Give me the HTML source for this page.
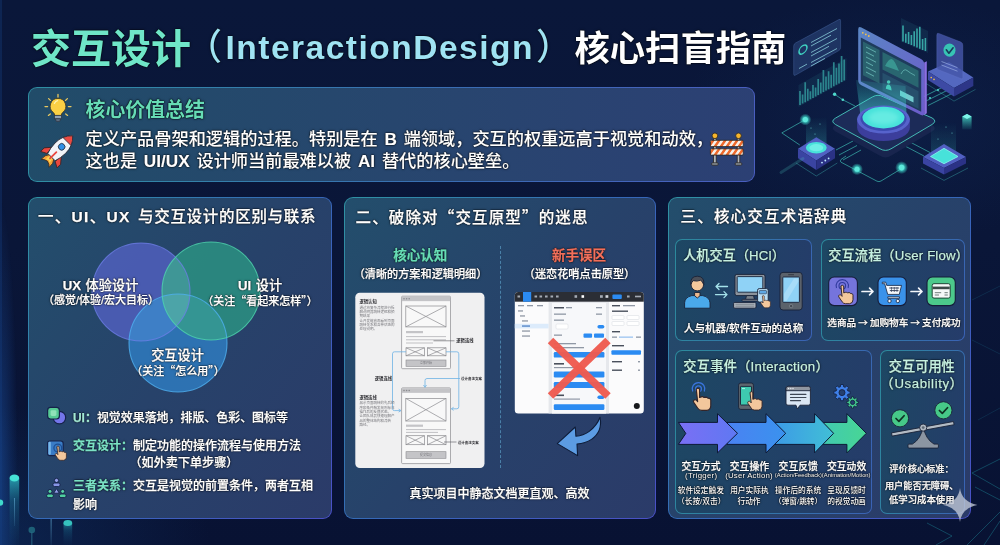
<!DOCTYPE html>
<html lang="zh-CN">
<head>
<meta charset="utf-8">
<title>交互设计（InteractionDesign）核心扫盲指南</title>
<style>
*{margin:0;padding:0;box-sizing:border-box}
html,body{width:1000px;height:545px;overflow:hidden;background:#091538}
body{position:relative;font-family:"Liberation Sans","Noto Sans CJK SC",sans-serif;color:#fff;
  background:
    radial-gradient(ellipse 300px 180px at 89% 22%, rgba(20,50,104,.28), rgba(10,24,60,0) 70%),
    radial-gradient(ellipse 300px 200px at 0% 100%, rgba(16,50,100,.55), rgba(10,24,60,0) 70%),
    linear-gradient(180deg,#0a173a 0%,#0a1638 45%,#081233 100%);}
#stage{position:absolute;left:0;top:0;width:1000px;height:545px;will-change:transform}
.abs{position:absolute}
.t{position:absolute;white-space:nowrap;line-height:1;text-shadow:0 0 1px rgba(0,0,0,.95),0 0 1.5px rgba(0,0,0,.85),0 0 2.5px rgba(0,0,0,.55);-webkit-text-stroke:.25px}
.c{transform:translateX(-50%);text-align:center}
.mint{color:#66dcb6}
.pm{color:#c6f1e2}
.q{font-family:"Noto Sans CJK SC",sans-serif}
.panel{position:absolute;border-radius:9px;border:1px solid transparent;
  background:
   linear-gradient(128deg,#234e6c 0%,#27426a 50%,#2b3b69 100%) padding-box,
   linear-gradient(128deg,#2f93a3 0%,#3568b8 50%,#4a50c6 100%) border-box;}
.sub{position:absolute;border-radius:7px;border:1px solid transparent;
  background:
   linear-gradient(100deg,#1d4763 0%,#253c6a 100%) padding-box,
   linear-gradient(100deg,#2c8b9c 0%,#3a62b4 100%) border-box;}
</style>
</head>
<body>
<div id="stage">

<!-- ============ BACKGROUND DECOR ============ -->
<svg class="abs" style="left:0;top:0" width="1000" height="545" viewBox="0 0 1000 545">
  <defs>
    <linearGradient id="dBar" x1="0" y1="0" x2="0" y2="1"><stop offset="0" stop-color="#2aa6b4" stop-opacity=".9"/><stop offset=".35" stop-color="#1a6a8a" stop-opacity=".5"/><stop offset="1" stop-color="#123e6a" stop-opacity=".1"/></linearGradient>
    <linearGradient id="dLine" x1="0" y1="0" x2="0" y2="1"><stop offset="0" stop-color="#5aa0c8" stop-opacity=".8"/><stop offset="1" stop-color="#5aa0c8" stop-opacity=".15"/></linearGradient>
    <radialGradient id="dEdge" cx="0" cy=".5" r=".5" gradientTransform="translate(0 0) scale(2 1)"><stop offset="0" stop-color="#163f82" stop-opacity=".8"/><stop offset="1" stop-color="#163f82" stop-opacity="0"/></radialGradient>
  </defs>
  <rect x="0" y="200" width="18" height="560" fill="url(#dEdge)"/>
  <rect x="0" y="0" width="2" height="545" fill="#163f82" fill-opacity=".35"/>
  <rect x="9.600" y="478" width="9.600" height="67" fill="url(#dBar)"/>
  <ellipse cx="14.400" cy="478" rx="4.800" ry="3.400" fill="#46e2d6"/>
  <rect x="14" y="498" width=".9" height="28" fill="url(#dLine)"/>
  <circle cx="0" cy="502.600" r="3.200" fill="#3fd8cc"/>
  <rect x="63.500" y="523" width="8.700" height="22" fill="url(#dBar)" opacity=".7"/>
  <ellipse cx="67.800" cy="523" rx="4.400" ry="3" fill="#36c2be"/>
  <circle cx="31.800" cy="530" r="3.300" fill="#1d6078"/>
  <rect x="31.400" y="532" width=".9" height="13" fill="#2a6a86"/>
  <rect x="50.600" y="519" width="1" height="26" fill="url(#dLine)"/>
  <!-- bottom-right geometric lines -->
  <g fill="none" stroke="#1f93a0" stroke-opacity=".45" stroke-width=".9">
    <path d="M972 473L1000 459M972 473L1000 489M984 545L1000 521M967 545L1000 512"/>
    <path d="M927 523L952 536L936 545M975 487L1000 500"/>
  </g>
  <g fill="none" stroke="#1f6f90" stroke-opacity=".3" stroke-width=".8">
    <path d="M972 300L1000 286M972 340L1000 354M978 420L1000 408"/>
  </g>
</svg>

<!-- ============ HERO ILLUSTRATION ============ -->
<svg class="abs" style="left:770px;top:0" width="230" height="195" viewBox="770 0 230 195">
  <defs>
    <linearGradient id="hBeam" x1="0" y1="0" x2="0" y2="1"><stop offset="0" stop-color="#3fd8d0" stop-opacity=".12"/><stop offset="1" stop-color="#46e4dc" stop-opacity=".6"/></linearGradient>
    <linearGradient id="hBeam2" x1="0" y1="0" x2="0" y2="1"><stop offset="0" stop-color="#3fd8d0" stop-opacity="0"/><stop offset="1" stop-color="#46e4dc" stop-opacity=".45"/></linearGradient>
    <linearGradient id="hMon" x1="0" y1="0" x2="1" y2="1"><stop offset="0" stop-color="#5a86c4"/><stop offset="1" stop-color="#6c5ccc"/></linearGradient>
    <linearGradient id="hCube" x1="0" y1="0" x2="0" y2="1"><stop offset="0" stop-color="#52e6d2"/><stop offset="1" stop-color="#2aa6a0" stop-opacity=".1"/></linearGradient>
    <radialGradient id="hGlow"><stop offset="0" stop-color="#7ff5ea"/><stop offset=".45" stop-color="#3fd8cc" stop-opacity=".8"/><stop offset="1" stop-color="#3fd8cc" stop-opacity="0"/></radialGradient>
    <filter id="hBlur" x="-30%" y="-30%" width="160%" height="160%"><feGaussianBlur stdDeviation="2.200"/></filter>
  </defs>
  <!-- circuit lines -->
  <g fill="none" stroke="#3fbdb4" stroke-opacity=".75" stroke-width=".9" stroke-linejoin="round">
    <path d="M805.300 119.600L781.800 132.900L799.800 145"/>
    <path d="M834.600 94.300L842.800 99.800L855 106"/>
    <path d="M836 150L853 141M839 155L857 145.500M843 160L861 150"/>
    <path d="M846 156l-5 3.500q-1.500 1.500 0 2.700l36 19q2 1 4-.2l20.600-12.400"/>
    <path d="M924 96.500L947 85M926 101L950 89M928 105.500L953 93"/>
    <path d="M905 146L924 156M910 142L930 152.500"/>
  </g>
  <!-- platform -->
  <path d="M835.500 124.500q-5.500-3.200 0-6.400l37-21.200q5.500-3.200 11 0l48.500 21q5.600 3.200 0 6.600l-41 24.300q-5.500 3.200-11 0z" fill="#18254e" stroke="none" transform="translate(0 7)"/>
  <path d="M835.500 124.500q-5.500-3.200 0-6.400l37-21.200q5.500-3.200 11 0l48.500 21q5.600 3.200 0 6.600l-41 24.300q-5.500 3.200-11 0z" fill="#1c2b58" stroke="#4bd2c4" stroke-opacity=".85" stroke-width="1"/>
  <!-- left translucent panel -->
  <path d="M793.700 46q0-2 1.800-3l43.300-23.400q1.800-1 1.800 1v27q0 2-1.800 3l-43.300 24.500q-1.800 1-1.800-1z" fill="#35528c" fill-opacity=".48" stroke="#5b83c4" stroke-opacity=".45" stroke-width=".7"/>
  <circle cx="803" cy="49.500" r="4" fill="none" stroke="#3fd0c0" stroke-width="1.500" transform="skewY(-28) translate(0 427)"/>
  <g stroke="#8fd6e0" stroke-opacity=".75" stroke-width="1"><path d="M811 42.500l26-14M811 46l20-10.800M811 52.500l26-14M811 56l18-9.700M811 62.500l26-14M811 66l14-7.600M799 68.500l8-4.400"/></g>
  <!-- left bar chart -->
  <g stroke="#43c9c0" stroke-opacity=".6" stroke-width="1.700">
    <path d="M800 105v-14M802.600 103.600v-9M805.200 102.200v-20M807.800 100.800v-12M810.400 99.300v-8M813 97.900v-13M815.600 96.400v-9M818.200 95v-16M820.800 93.500v-11M823.400 92.100v-22M826 90.600v-14M828.600 89.200v-18M831.200 87.700v-13M833.800 86.300v-24M836.400 84.800v-17M839 83.400v-20M841.600 81.900v-26M844.200 80.500v-21"/>
  </g>
  <path d="M798.500 107l48-27v-22l-48 27z" fill="#2f8f9a" fill-opacity=".13"/>
  <!-- top small bar chart -->
  <path d="M901 41.500l27 11.500v-22l-27-13z" fill="#2f8f9a" fill-opacity=".14"/>
  <g stroke="#46cfc4" stroke-opacity=".75" stroke-width="1.600">
    <path d="M903 41.500v-16M905.800 42.700v-9M908.600 43.900v-12M911.400 45.100v-10M914.200 46.300v-15M917 47.500v-19M919.800 48.700v-22M922.600 49.900v-11M925.400 51.100v-13"/>
  </g>
  <!-- monitor -->
  <path d="M858.200 29.400q0-3.600 3.200-2l59.600 31.600q3.200 1.700 3.200 5.300v48.600q0 3.600-3.200 2l-59.600-29.700q-3.200-1.700-3.200-5.300z" fill="url(#hMon)"/>
  <path d="M924.200 62.500l2.600-1.300v52l-2.600 1.800z" fill="#8a6fe0"/>
  <path d="M860.800 37.500l60.400 31.700v42.500l-60.400-30.200z" fill="#1e3b5c"/>
  <g fill="#f2c24a"><circle cx="862.800" cy="32.800" r=".9"/><circle cx="865.800" cy="34.400" r=".9"/><circle cx="868.800" cy="36" r=".9"/></g>
  <path d="M863 41.500l16.500 8.600v33.400l-16.500-8.200z" fill="#2b6670" fill-opacity=".9"/>
  <path d="M882.500 52l36 18.800v17l-36-18.400z" fill="#2a6c72" fill-opacity=".9"/>
  <path d="M882.500 72.800l36 18.400v17.500l-36-18z" fill="#27526e" fill-opacity=".9"/>
  <g stroke="#7fd8d0" stroke-opacity=".7" stroke-width=".9"><path d="M866 47l10 5.200M866 52l8 4.200M866 57l10 5.200M866 62l7 3.700M866 67l10 5.200M866 72l8 4.200"/></g>
  <path d="M885 66q6-12 10-3.500q2.500 5 4 8.600" fill="#3fa79c" fill-opacity=".75"/>
  <path d="M901 74q3-6 6-3.500t8 5" fill="none" stroke="#7fd8d0" stroke-opacity=".7" stroke-width=".8"/>
  <circle cx="888.600" cy="82" r="1.800" fill="#49c8b8"/><path d="M885.800 88.800q.4-4.400 2.800-4.200q2.600.4 3 5.800z" fill="#49c8b8"/>
  <path d="M900 90.200l13.500 6.800v5.500l-13.500-6.800z" fill="#7fe0e0" fill-opacity=".85"/>
  <!-- right card + server -->
  <path d="M928 71.600l21-9.500l24.300 15.400l-19.300 10.500z" fill="#5468c0"/>
  <path d="M928 71.600l26 16.400v8.500l-26-16.400z" fill="#3d4aa4"/>
  <path d="M954 88l19.300-10.500v8.500l-19.300 10.500z" fill="#2d3688"/>
  <path d="M926 80.500l28 17.600l21.500-11.700" fill="none" stroke="#45c8c0" stroke-opacity=".4" stroke-width=".8" transform="translate(0 3)"/>
  <g fill="#f2c24a"><circle cx="931.200" cy="77.600" r=".8"/><circle cx="934" cy="79.400" r=".8"/></g>
  <path d="M936.800 35q0-2.400 2-1.600l22 8.600q2 .8 2 3.200v32.500q0 1.600-1.600 1l-22.800-9q-1.600-.7-1.600-2.400z" fill="#4456a8" fill-opacity=".82" stroke="#6a7cd0" stroke-opacity=".5" stroke-width=".6"/>
  <ellipse cx="949.500" cy="50.200" rx="6" ry="6.600" fill="#37c4b4"/>
  <path d="M946.300 49.800l2.600 3.400l4.200-5.400" fill="none" stroke="#173a5a" stroke-width="1.600" stroke-linecap="round" stroke-linejoin="round"/>
  <g stroke="#9fb4e8" stroke-opacity=".7" stroke-width=".9"><path d="M941.500 61.500l16 6.200M941.500 65l16 6.200"/></g>
  <!-- beam + disc -->
  <path d="M856 80l4.500 36q1 7 23 8q22-1 23-8l-1-30z" fill="url(#hBeam)"/>
  <path d="M857.100 118v9.500a26.400 13.500 0 0 0 52.800 0v-9.500z" fill="#3c3e9c"/>
  <ellipse cx="883.500" cy="119.500" rx="26.400" ry="14" fill="#5763cc"/>
  <ellipse cx="883.500" cy="119" rx="23" ry="12" fill="#3b4bb0"/>
  <ellipse cx="883.500" cy="117.600" rx="21" ry="10.800" fill="#47e2da"/>
  <ellipse cx="883.500" cy="117.600" rx="15" ry="7" fill="#7df3ea" fill-opacity=".55" filter="url(#hBlur)"/>
  <!-- left box -->
  <path d="M806 148V119l20.500 -2.500V148z" fill="url(#hBeam2)" opacity=".55"/>
  <path d="M798 148.700l18.300-11.400l18.700 11.400l-18.700 11.700z" fill="#5160c2"/>
  <path d="M798 148.700l18.300 11.700v9.600l-18.300-11.700z" fill="#3a44a2"/>
  <path d="M816.300 160.400l18.700-11.700v9.600l-18.700 11.700z" fill="#2b3286"/>
  <path d="M796 160.500l20.300 13l21-13" fill="none" stroke="#45c8c0" stroke-opacity=".45" stroke-width=".8" transform="translate(0 2.500)"/>
  <ellipse cx="816.300" cy="147.700" rx="10.400" ry="5.800" fill="#47e2da"/>
  <ellipse cx="816.300" cy="147.700" rx="7" ry="3.600" fill="#8af6ee" fill-opacity=".6"/>
  <g fill="#bfe9ff"><circle cx="822" cy="162.600" r=".9"/><circle cx="825.300" cy="160.500" r=".9"/><circle cx="828.600" cy="158.400" r=".9"/></g>
  <path d="M803 158.500l-22 14" stroke="#4fd8cc" stroke-opacity=".2" stroke-width="3" stroke-linecap="round"/>
  <!-- right box -->
  <path d="M931 156V124l25-2V156z" fill="url(#hBeam2)" opacity=".4"/>
  <path d="M923 157l21-13.100l22 13.100l-22 11z" fill="#5160c2"/>
  <path d="M923 157l21 11v6.500l-21-11z" fill="#3a44a2"/>
  <path d="M944 168l22-11v6.500l-22 11z" fill="#2b3286"/>
  <path d="M921 166l23 12.400l24-12.400" fill="none" stroke="#45c8c0" stroke-opacity=".45" stroke-width=".8" transform="translate(0 2)"/>
  <path d="M930.500 156.500l13.500-8.200l14 8.200l-14 7.200z" fill="#47e2da" stroke="#8af6ee" stroke-width=".8" stroke-linejoin="round"/>
  <!-- small cube -->
  <path d="M962.300 116.500l4.700-2.500l4.600 2.500v13h-9.300z" fill="url(#hCube)"/>
  <path d="M962.300 116.500l4.700-2.500l4.600 2.500l-4.600 2.500z" fill="#7ff5ea"/>
  <!-- glow dots -->
  <circle cx="805.300" cy="119.600" r="6" fill="url(#hGlow)"/><circle cx="805.300" cy="119.600" r="2.600" fill="#5fe8dc"/>
  <circle cx="857" cy="169.200" r="6" fill="url(#hGlow)"/><circle cx="857" cy="169.200" r="2.500" fill="#5fe8dc"/>
  <circle cx="901.600" cy="167.600" r="6.500" fill="url(#hGlow)"/><circle cx="901.600" cy="167.600" r="2.800" fill="#5fe8dc"/>
  <circle cx="834.600" cy="94.300" r="1.700" fill="#4fd8cc"/><circle cx="842.800" cy="99.800" r="1.300" fill="#4fd8cc"/>
  <circle cx="938" cy="90" r="1" fill="#4fd8cc"/><circle cx="930" cy="98" r="1" fill="#4fd8cc"/>
  <g fill="#7ff5ea" fill-opacity=".7"><circle cx="811" cy="128" r=".6"/><circle cx="820" cy="124" r=".6"/><circle cx="815" cy="134" r=".6"/><circle cx="946" cy="127" r=".6"/><circle cx="938" cy="139" r=".6"/><circle cx="952" cy="133" r=".6"/></g>
</svg>

<!-- ============ TITLE ============ -->
<div class="t" id="t1" style="-webkit-text-stroke:0;left:31px;top:29px;font-size:40px;font-weight:700;color:#6fe6c8">交互设计</div>
<div class="t" id="t2a" style="-webkit-text-stroke:0;left:186px;top:30px;font-size:36px;font-weight:500;color:#9fe3f3">（</div>
<div class="t" id="t2" style="-webkit-text-stroke:0;left:225.5px;top:31px;font-size:33.5px;font-weight:700;letter-spacing:1.5px;color:#9fe3f3">InteractionDesign</div>
<div class="t" id="t2b" style="-webkit-text-stroke:0;left:536px;top:30px;font-size:36px;font-weight:500;color:#9fe3f3">）</div>
<div class="t" id="t3" style="-webkit-text-stroke:0;left:574.5px;top:31px;font-size:35.3px;font-weight:700;color:#fff">核心扫盲指南</div>

<!-- ============ SUMMARY BOX ============ -->
<div class="panel" id="sum" style="left:28px;top:87px;width:727px;height:95px;
  background:linear-gradient(95deg,#214c69 0%,#27466e 50%,#2c4074 100%) padding-box,linear-gradient(95deg,#2f8fa3 0%,#3a6cb4 60%,#4a5ec0 100%) border-box;"></div>
<div class="t mint" style="-webkit-text-stroke:0;left:85.5px;top:101px;font-size:19.9px;font-weight:700">核心价值总结</div>
<div class="t" style="left:85.5px;top:131px;-webkit-text-stroke:.1px;font-size:17.2px;font-weight:500;word-spacing:2px">定义产品骨架和逻辑的过程。特别是在 <b>B</b> 端领域，交互的权重远高于视觉和动效，</div>
<div class="t" style="left:85.5px;top:153px;-webkit-text-stroke:.1px;font-size:17.2px;font-weight:500;word-spacing:2px">这也是 <b>UI/UX</b> 设计师当前最难以被 <b>AI</b> 替代的核心壁垒。</div>

<!-- summary icons -->
<svg class="abs" style="left:36px;top:92px" width="44" height="84" viewBox="36 92 44 84">
  <!-- bulb -->
  <g stroke="#e8c860" stroke-width="1.3" stroke-linecap="round">
    <path d="M58 94.5v2.6M48.6 98.6l1.8 1.8M67.4 98.6l-1.8 1.8M45 106.6h2.6M68.4 106.6h2.6M48.4 115.4l1.9-1.5M67.6 115.4l-1.9-1.5"/>
  </g>
  <path d="M58 98.4a7.8 7.8 0 0 1 4.6 14.1q-1.2 1.1-1.3 2.9h-6.6q-.1-1.8-1.3-2.9A7.8 7.8 0 0 1 58 98.4z" fill="#fbd045" stroke="#3a3320" stroke-width=".8"/>
  <path d="M54.4 103.4q1-2.4 3.2-2.8" fill="none" stroke="#fff3b0" stroke-width="1.2" stroke-linecap="round"/>
  <rect x="54.6" y="115.4" width="6.8" height="3.4" fill="#8fa2b4" stroke="#2e3440" stroke-width=".7"/>
  <path d="M55.4 118.8h5.2l-.9 2.6h-3.4z" fill="#5f7186" stroke="#2e3440" stroke-width=".7"/>
  <!-- rocket -->
  <g transform="translate(58.5 150) rotate(45)">
    <path d="M-3 9.5 q-3.4 3.4 -2.6 9.4 q2-2.4 5.6-3.2 q3.6.8 5.6 3.2 q.8-6-2.6-9.400z" fill="#f7a53a" stroke="#3a2a20" stroke-width=".8"/>
    <path d="M-1.500 10.500 q-1.500 2.400-.900 5.200 q1.200-1.400 2.400-1.700 q1.200.3 2.400 1.700 q.6-2.800-.9-5.200z" fill="#fbd652"/>
    <path d="M-6 2 l-5.600 6.600 v5 l5.800-3z M6 2 l5.600 6.600 v5 l-5.800-3z" fill="#e9473f" stroke="#3a2020" stroke-width=".8" stroke-linejoin="round"/>
    <path d="M0-20 q7.600 6.600 7.400 17.500 q-.2 7-2.200 12.500 h-10.400 q-2-5.500-2.200-12.500 q-.2-10.900 7.400-17.500z" fill="#f2f4f8" stroke="#2b2f3c" stroke-width=".9"/>
    <path d="M0-20 q3.800 3.200 5.700 8 h-11.400 q1.900-4.800 5.700-8z" fill="#ea4a42" stroke="#2b2f3c" stroke-width=".8"/>
    <circle cx="0" cy="-4.500" r="3.300" fill="#2f8fe6" stroke="#2b2f3c" stroke-width=".8"/>
    <path d="M0 3v9" stroke="#e9473f" stroke-width="1.800" stroke-linecap="round"/>
  </g>
</svg>
<svg class="abs" style="left:706px;top:128px" width="42" height="42" viewBox="706 128 42 42">
  <defs>
    <pattern id="stripe" width="6" height="8" patternUnits="userSpaceOnUse" patternTransform="skewX(-35)">
      <rect width="6" height="8" fill="#f6f1ea"/><rect width="3" height="8" fill="#ee6a2c"/>
    </pattern>
  </defs>
  <g stroke="#2a2622" stroke-width=".8">
    <rect x="713.600" y="138" width="2.600" height="25.500" fill="#aeb4ba"/>
    <rect x="737.200" y="138" width="2.600" height="25.500" fill="#aeb4ba"/>
    <rect x="711.600" y="162.800" width="6.600" height="2.400" rx="1" fill="#8d949b"/>
    <rect x="735.200" y="162.800" width="6.600" height="2.400" rx="1" fill="#8d949b"/>
    <circle cx="714.900" cy="135.800" r="2.800" fill="#f7b52c"/>
    <circle cx="738.500" cy="135.800" r="2.800" fill="#f7b52c"/>
    <rect x="710.400" y="140.300" width="32.800" height="6.300" rx="1" fill="url(#stripe)"/>
    <rect x="710.400" y="148.800" width="32.800" height="6.300" rx="1" fill="url(#stripe)"/>
  </g>
</svg>

<!-- ============ PANEL 1 ============ -->
<div class="panel" id="p1" style="left:28px;top:197px;width:304px;height:322px"></div>
<div class="t" style="left:38px;top:208.5px;font-size:15.5px;font-weight:500;letter-spacing:1.3px">一、<b>UI</b>、<b>UX</b></div>
<div class="t" style="left:138px;top:208.5px;font-size:15.5px;font-weight:500;letter-spacing:.7px">与交互设计的区别与联系</div>
<!-- venn -->
<svg class="abs" style="left:28px;top:197px" width="304" height="322" viewBox="28 197 304 322">
  <defs>
    <radialGradient id="gUX" cx="50%" cy="45%" r="60%"><stop offset="0" stop-color="#4a58c8"/><stop offset="1" stop-color="#4152c0"/></radialGradient>
    <radialGradient id="gUI" cx="50%" cy="45%" r="60%"><stop offset="0" stop-color="#2f9f8a"/><stop offset="1" stop-color="#2a9484"/></radialGradient>
    <radialGradient id="gIX" cx="50%" cy="45%" r="60%"><stop offset="0" stop-color="#2f86cf"/><stop offset="1" stop-color="#2a7cc6"/></radialGradient>
  </defs>
  <circle cx="141" cy="292" r="49" fill="#4f5fba" fill-opacity=".88"/>
  <circle cx="178" cy="343" r="49" fill="#2f7ec4" fill-opacity=".8"/>
  <circle cx="211" cy="291" r="49" fill="#2c9683" fill-opacity=".8"/>
  <clipPath id="cUX"><circle cx="141" cy="292" r="49"/></clipPath>
  <clipPath id="cIX"><circle cx="178" cy="343" r="49"/></clipPath>
  <circle cx="211" cy="291" r="49" fill="#9fe8e0" fill-opacity=".13" clip-path="url(#cUX)"/>
  <circle cx="211" cy="291" r="49" fill="#9fe8e0" fill-opacity=".08" clip-path="url(#cIX)"/>
  <circle cx="141" cy="292" r="49" fill="#9fd0ff" fill-opacity=".10" clip-path="url(#cIX)"/>
  <circle cx="141" cy="292" r="49" fill="none" stroke="#6f7fea" stroke-opacity=".75" stroke-width="1.100"/>
  <circle cx="178" cy="343" r="49" fill="none" stroke="#4fb0f0" stroke-opacity=".8" stroke-width="1.100"/>
  <circle cx="211" cy="291" r="49" fill="none" stroke="#4fd6ae" stroke-opacity=".8" stroke-width="1.100"/>
</svg>
<div class="t c" style="left:100.5px;top:278.5px;font-size:13.2px;font-weight:500;word-spacing:1px"><b>UX</b> 体验设计</div>
<div class="t c" style="left:101px;top:294.5px;font-size:11px;font-weight:500">（感觉/体验/宏大目标）</div>
<div class="t c" style="left:260px;top:278.5px;font-size:13.2px;font-weight:500;word-spacing:1px"><b>UI</b> 设计</div>
<div class="t c q" style="left:260px;top:294.5px;font-size:11px;font-weight:500">（关注“看起来怎样”）</div>
<div class="t c" style="left:177.5px;top:348.5px;font-size:13.2px;font-weight:500">交互设计</div>
<div class="t c q" style="left:178px;top:364.5px;font-size:11px;font-weight:500">（关注“怎么用”）</div>
<!-- panel1 icons -->
<svg class="abs" style="left:40px;top:400px" width="32" height="104" viewBox="40 400 32 104">
  <!-- UI icon -->
  <circle cx="59.4" cy="417.6" r="6.3" fill="#7476ea" stroke="#16224a" stroke-width="1.2"/>
  <rect x="47.6" y="407.4" width="11.8" height="11.6" rx="3" fill="#56c994" stroke="#16224a" stroke-width="1.2"/>
  <rect x="50.6" y="410.2" width="5.8" height="5.8" rx="1.4" fill="#8fe2b8"/>
  <!-- interaction icon -->
  <rect x="47.6" y="441" width="15.6" height="14.6" rx="2.4" fill="#3a7cc6" stroke="#16224a" stroke-width="1.2"/>
  <rect x="48.4" y="441.8" width="2.4" height="13" rx="1" fill="#79b8ea"/>
  <circle cx="57.8" cy="448" r="3.9" fill="none" stroke="#1d4f94" stroke-width="1.3"/>
  <circle cx="57.8" cy="448" r="1.7" fill="#2a64ad"/>
  <path d="M56.9 446.6 q1.1-1.2 2.2 0 v5.2 l1.6-.5 q.9-.2 1.2.5 l1.5-.2 q.9 0 1.1.8 l1.1.1 q.8.2.8 1.2 v3.6 q0 2.6-2.6 3 h-3.2 q-1.6 0-2.6-1.4 l-2.6-3.8 q-.6-1.1.4-1.6 q.9-.3 1.6.5 l.5.6 z" fill="#f3c79c" stroke="#3a2a2a" stroke-width=".8" stroke-linejoin="round"/>
  <!-- relation icon -->
  <g stroke="#142048" stroke-width=".9">
    <circle cx="56.5" cy="480.4" r="2.1" fill="#93a0ea"/>
    <rect x="52.9" y="483" width="7.2" height="3.6" rx="1.7" fill="#8796e6"/>
    <path d="M56.5 488.6 l2.8 4.6 h-5.6z" fill="#93a0ea"/>
    <circle cx="50" cy="491.4" r="2" fill="#58d3a4"/>
    <rect x="46.6" y="494" width="6.8" height="3.6" rx="1.7" fill="#4fd0a0"/>
    <circle cx="62.7" cy="491.4" r="2" fill="#58d3a4"/>
    <rect x="59.3" y="494" width="6.8" height="3.6" rx="1.7" fill="#4fd0a0"/>
  </g>
</svg>
<!-- bullets -->
<div class="t" style="left:73px;top:413px;font-size:11.95px;font-weight:500"><span style="color:#a2e8d6;font-weight:700">UI：</span>视觉效果落地，排版、色彩、图标等</div>
<div class="t" style="left:73px;top:439.5px;font-size:12px;font-weight:500"><span style="font-weight:700;color:#7be2c6">交互设计：</span>制定功能的操作流程与使用方法</div>
<div class="t" style="left:129.5px;top:456.5px;font-size:12.1px;font-weight:500">（如外卖下单步骤）</div>
<div class="t" style="left:73px;top:480.3px;font-size:12px;font-weight:500"><span style="font-weight:700;color:#7be2c6">三者关系：</span>交互是视觉的前置条件，两者互相</div>
<div class="t" style="left:73px;top:499px;font-size:12px;font-weight:500">影响</div>

<!-- ============ PANEL 2 ============ -->
<div class="panel" id="p2" style="left:344px;top:197px;width:312px;height:322px"></div>
<div class="t q" style="left:355.5px;top:208.5px;font-size:15.5px;font-weight:500;letter-spacing:1.15px">二、破除对“交互原型”的迷思</div>
<div class="abs" style="left:499.5px;top:246px;width:0;height:222px;border-left:1px dashed rgba(86,150,190,.75)"></div>
<div class="t c mint" style="left:420.2px;top:248.5px;font-size:13.5px;font-weight:700">核心认知</div>
<div class="t c" style="left:420.5px;top:269px;font-size:11.15px;font-weight:500">（清晰的方案和逻辑明细）</div>
<div class="t c" style="left:579px;top:248.5px;font-size:13.5px;font-weight:700;color:#f2705c">新手误区</div>
<div class="t c" style="left:579.5px;top:269px;font-size:11.15px;font-weight:500">（迷恋花哨点击原型）</div>
<!-- wireframe doc -->
<svg class="abs" style="left:355px;top:292px" width="130" height="177" viewBox="355 292 130 177" font-family="'Liberation Sans','Noto Sans CJK SC',sans-serif">
  <rect x="355.3" y="292.700" width="129.200" height="175.300" rx="4.500" fill="#f0f0f1"/>
  <g fill="none" stroke="#8b8b8f" stroke-width=".7">
    <rect x="401.600" y="296.200" width="48.900" height="72.500" rx="1" fill="#f8f8f8"/>
    <rect x="405.800" y="306" width="40.200" height="20.900"/><path d="M405.800 306l40.200 20.900M446 306l-40.200 20.900"/>
    <rect x="406" y="347.800" width="18.500" height="8"/><path d="M406 347.800l18.500 8M424.500 347.800l-18.500 8"/>
    <rect x="427.500" y="347.800" width="18.500" height="8"/><path d="M427.500 347.800l18.500 8M446 347.800l-18.500 8"/>
    <rect x="401.600" y="387.900" width="48.900" height="75.700" rx="1" fill="#f8f8f8"/>
    <rect x="405.800" y="398.400" width="40.200" height="22.600"/><path d="M405.800 398.400l40.200 22.600M446 398.400l-40.200 22.600"/>
    <rect x="406" y="435.700" width="18.500" height="9"/><path d="M406 435.700l18.500 9M424.500 435.700l-18.500 9"/>
    <rect x="427.500" y="435.700" width="18.500" height="9"/><path d="M427.500 435.700l18.500 9M446 435.700l-18.500 9"/>
  </g>
  <g fill="#c4c4c7">
    <rect x="401.950" y="296.550" width="48.200" height="4.600"/>
    <rect x="401.950" y="388.250" width="48.200" height="4.600"/>
    <rect x="406" y="331" width="17" height="2.200"/>
    <rect x="406" y="360" width="40" height="6.300" stroke="#8b8b8f" stroke-width=".6"/>
    <rect x="406" y="424.600" width="17" height="2.200"/>
    <rect x="406" y="451.700" width="40" height="6.600" stroke="#8b8b8f" stroke-width=".6"/>
  </g>
  <g stroke="#a9a9ad" stroke-width=".7">
    <path d="M406 336.600h40M406 339.800h40M406 343h27M406 429.600h40M406 432.400h32"/>
  </g>
  <g fill="#8b8b8f"><circle cx="404" cy="298.800" r=".8"/><circle cx="406.600" cy="298.800" r=".8"/><circle cx="409.200" cy="298.800" r=".8"/>
  <circle cx="404" cy="390.500" r=".8"/><circle cx="406.600" cy="390.500" r=".8"/><circle cx="409.200" cy="390.500" r=".8"/></g>
  <g fill="none" stroke="#6db2e4" stroke-width=".8">
    <path d="M406 351.800h-11.500q-2 0-2 2v54.800q0 2 2 2h5.600"/><path d="M398.600 409.100l2.400 1.500l-2.400 1.500" />
    <path d="M446 351.800h10.800q2 0 2 2v53q0 2-2 2h-4.800"/><path d="M453.600 407.300l-2.400 1.500l2.400 1.500"/>
    <path d="M460 378.500h-33q-2 0-2 2v6"/><path d="M423.500 385l1.500 2.400l1.500-2.400"/>
  </g>
  <g stroke="#55555a" stroke-width=".6"><path d="M433.500 340.800h21M444 442h12.500"/></g>
  <g fill="#2e2e33" font-weight="700" font-size="4.300">
    <text x="359.500" y="303.200">逻辑认知</text>
    <text x="456.300" y="342.300">逻辑连线</text>
    <text x="374.800" y="380">逻辑连线</text>
    <text x="461" y="380" font-size="3.500">设计备注文案</text>
    <text x="359.500" y="398.800">逻辑连线</text>
    <text x="457.800" y="443.500" font-size="3.500">设计备注文案</text>
  </g>
  <g fill="#77777c" font-size="3.500">
    <text x="359.500" y="308.700">通过将复杂流程进行拆</text>
    <text x="359.500" y="313">解说明其跳转逻辑和预</text>
    <text x="359.500" y="317.300">期结果</text>
    <text x="359.500" y="321.600">让开发能直观看到页面</text>
    <text x="359.500" y="325.900">跳转关系和各种状态的</text>
    <text x="359.500" y="330.200">处理说明。</text>
    <text x="359.500" y="404.300">展示页面跳转的先后顺</text>
    <text x="359.500" y="408.600">序和条件触发规则标注</text>
    <text x="359.500" y="412.900">操作后的反馈状态。</text>
    <text x="359.500" y="417.200">让团队成员快速理解产</text>
    <text x="359.500" y="421.500">品的整体结构和流转</text>
    <text x="359.500" y="425.800">路径。</text>
  </g>
  <g fill="#77777c" font-size="3" text-anchor="middle"><text x="426" y="364.300">立即开始</text><text x="426" y="456.200">提交信息</text></g>
</svg>
<!-- prototype screenshot -->
<svg class="abs" style="left:514px;top:291px" width="131" height="170" viewBox="514 291 131 170">
  <defs><clipPath id="shot"><rect x="514.800" y="292" width="129" height="121.400" rx="3.500"/></clipPath></defs>
  <g clip-path="url(#shot)">
    <rect x="514" y="291" width="131" height="123" fill="#fbfbfc"/>
    <rect x="548.600" y="301.700" width="60.400" height="112" fill="#e6e8ec"/>
    <rect x="552" y="303" width="54" height="111" fill="#f7f8fa"/>
    <rect x="514" y="291" width="131" height="10.700" fill="#2b2e35"/>
    <rect x="523" y="291" width="8.200" height="10.700" fill="#2b8bf2"/>
    <rect x="612.400" y="294.600" width="9.400" height="4.400" rx="1" fill="#2b8bf2"/>
    <g fill="#a5abb5"><rect x="517.500" y="295.500" width="2.600" height="2"/><rect x="534.500" y="295.500" width="2.600" height="2"/><rect x="539.500" y="295.500" width="2.600" height="2"/><rect x="545" y="295.500" width="2.600" height="2"/><rect x="550.500" y="295.500" width="2.600" height="2"/><rect x="556" y="295.500" width="2.600" height="2"/>
      <rect x="574.500" y="295.200" width="2.600" height="2.600"/><rect x="581.500" y="295.200" width="2.600" height="2.600" fill="#fff"/><rect x="600" y="295.200" width="2.800" height="2.600"/><rect x="605.500" y="295.200" width="2.800" height="2.600" fill="#d5d9e0"/><rect x="627" y="295.500" width="2.600" height="2"/><rect x="635" y="295.700" width="6" height="1.600"/></g>
    <rect x="514" y="323.800" width="34.600" height="4.600" fill="#dcebfb"/>
    <g fill="#9098a5">
      <rect x="518" y="305" width="6" height="1.300"/><rect x="527" y="305" width="6" height="1.300"/><rect x="537" y="305" width="6" height="1.300"/>
      <rect x="518" y="310.300" width="5" height="1.300"/><rect x="520" y="315.300" width="5" height="1.300"/><rect x="522" y="320.300" width="6" height="1.300"/><rect x="522" y="325.400" width="8" height="1.300" fill="#4b7fc4"/><rect x="522" y="330.400" width="8" height="1.300"/><rect x="522" y="335.400" width="8" height="1.300"/>
      <rect x="554" y="307" width="10" height="1.500" fill="#4a505c"/><rect x="566" y="307" width="6" height="1.300"/><rect x="596" y="307" width="6" height="1.300"/>
      <rect x="554" y="313.500" width="12" height="1.300"/><rect x="596" y="313.500" width="6" height="1.300"/>
      <rect x="554" y="319.500" width="10" height="1.300"/>
      <rect x="554" y="334.500" width="8" height="1.300"/><rect x="554" y="343" width="22" height="1.300"/><rect x="554" y="347" width="30" height="1.300"/>
      <rect x="554" y="363" width="10" height="1.600" fill="#4a505c"/><rect x="554" y="367" width="22" height="1.200"/>
      <rect x="554" y="394.500" width="10" height="1.600" fill="#4a505c"/><rect x="554" y="398.500" width="26" height="1.200"/>
      <rect x="612" y="305" width="8" height="1.400" fill="#4a505c"/><rect x="623" y="305" width="12" height="1.300"/>
      <rect x="612" y="310.500" width="16" height="1.400" fill="#4a505c"/>
      <rect x="612" y="331" width="8" height="1.400" fill="#4a505c"/><rect x="612" y="336.500" width="5" height="1.300"/><rect x="619" y="336.500" width="14" height="1.300" fill="#9cc4f0"/><rect x="636" y="336.500" width="5" height="1.300"/>
      <rect x="612" y="345" width="12" height="1.400" fill="#4a505c"/>
      <rect x="612" y="361" width="10" height="1.400" fill="#4a505c"/><rect x="612" y="369.500" width="10" height="1.400" fill="#4a505c"/><rect x="638" y="361" width="2" height="1.400"/><rect x="638" y="369.500" width="2" height="1.400"/>
    </g>
    <g fill="#fff" stroke="#d4d8de" stroke-width=".5"><rect x="556" y="324" width="12" height="5" rx="1"/><rect x="612" y="315.500" width="12" height="4" rx=".8"/><rect x="627" y="315.500" width="12" height="4" rx=".8"/><rect x="612" y="321.500" width="12" height="4" rx=".8"/><rect x="627" y="321.500" width="12" height="4" rx=".8"/></g>
    <g fill="#2b8bf2">
      <rect x="597.400" y="325" width="7" height="3.600" rx="1.800"/>
      <rect x="583.500" y="333.600" width="8.600" height="4.200" rx="1"/><rect x="594" y="333.600" width="10" height="4.200" rx="1"/>
      <rect x="553.800" y="352" width="50.600" height="5.600" rx="1.200"/>
      <rect x="553.800" y="371.500" width="50.600" height="5.900" rx="1.200"/>
      <rect x="553.800" y="382" width="50.600" height="6" rx="1.200"/>
      <rect x="597.400" y="395.500" width="7" height="3.600" rx="1.800"/>
      <rect x="553.800" y="404.300" width="50.600" height="5.700" rx="1.200"/>
      <rect x="611.400" y="350.200" width="29.600" height="4.600" rx="1"/>
    </g>
    <circle cx="636.800" cy="406" r="3" fill="#17181c"/>
  </g>
  <g stroke="#ee5b50" stroke-opacity=".97" stroke-width="7.800" stroke-linecap="butt">
    <path d="M550.500 340.500L608 396"/><path d="M608 340.500L550.500 396"/>
  </g>
  <path d="M600 417.200 q2.800 14.500-8.500 22.200 q-6 4-14.500 4.600 l.6 11.600 l-20.300-12 l18-16.600 l.6 9.200 q7.500-.6 13-4.600 q8-6 11.100-14.400z" fill="#5c9ce3" stroke="#0e1c38" stroke-width="1.100" stroke-linejoin="round"/>
</svg>
<div class="t c" style="left:499.5px;top:487.5px;font-size:12px;font-weight:500">真实项目中静态文档更直观、高效</div>

<!-- ============ PANEL 3 ============ -->
<div class="panel" id="p3" style="left:668px;top:197px;width:303px;height:322px"></div>
<div class="t" style="left:680.5px;top:208.5px;font-size:15.5px;font-weight:500;letter-spacing:1.2px">三、核心交互术语辞典</div>
<div class="sub" style="left:675px;top:238.5px;width:137px;height:102.5px"></div>
<div class="sub" style="left:820.5px;top:238.5px;width:144px;height:102.5px"></div>
<div class="sub" style="left:675px;top:349.5px;width:197px;height:164.5px"></div>
<div class="sub" style="left:880px;top:349.5px;width:84.5px;height:164.5px"></div>
<div class="t pm" style="left:683.2px;top:249px;font-size:13.2px;font-weight:500">人机交互（HCI）</div>
<div class="t pm" style="left:828.2px;top:249px;font-size:13.2px;font-weight:500;letter-spacing:.15px">交互流程（User Flow）</div>
<div class="t pm" style="left:683.2px;top:360px;font-size:13.2px;font-weight:500;letter-spacing:.3px">交互事件（Interaction）</div>
<div class="t c pm" style="left:921.8px;top:359.5px;font-size:13.2px;font-weight:500">交互可用性</div>
<div class="t c pm" style="left:922px;top:376.8px;font-size:13.2px;font-weight:500;letter-spacing:.6px">（Usability）</div>
<div class="t" style="left:683.8px;top:322.8px;font-size:10.6px;font-weight:500">人与机器/软件互动的总称</div>
<div class="t" style="left:827.3px;top:318.3px;font-size:9.62px;font-weight:500;word-spacing:-.6px">选商品 <span class="q">→</span> 加购物车 <span class="q">→</span> 支付成功</div>
<svg class="abs" style="left:668px;top:197px" width="303" height="322" viewBox="668 197 303 322">
  <defs>
    <linearGradient id="ar3" x1="0" x2="1"><stop offset="0" stop-color="#3c9be6"/><stop offset="1" stop-color="#41bfd6"/></linearGradient>
    <linearGradient id="ar4" x1="0" x2="1"><stop offset="0" stop-color="#41c9b0"/><stop offset="1" stop-color="#48d694"/></linearGradient>
    <linearGradient id="ar1" x1="0" x2="1"><stop offset="0" stop-color="#7a6ff5"/><stop offset="1" stop-color="#5f78f2"/></linearGradient>
    <linearGradient id="ar2" x1="0" x2="1"><stop offset="0" stop-color="#4a82f2"/><stop offset="1" stop-color="#3a92ee"/></linearGradient>
    <g id="hand">
      <path d="M-1.300-7.600q1.300-1.300 2.600 0v6.400l1.900-.6q1-.2 1.400.6l1.700-.3q1.100 0 1.300.9l1.300.1q1 .3 1 1.400v4.300q0 3.100-3.100 3.600h-3.800q-1.900 0-3.100-1.700l-3.100-4.500q-.7-1.300.5-1.900q1.100-.4 1.900.6l.6.700z" fill="#f3c79c" stroke="#34262a" stroke-width=".9" stroke-linejoin="round"/>
    </g>
  </defs>
  <!-- HCI: person -->
  <g stroke="#1a2238" stroke-width=".9" stroke-linejoin="round">
    <path d="M684.600 308.200v-5.400q.3-5.600 7.200-7.200h11q6.900 1.600 7.200 7.200v5.400z" fill="#4aa9ea"/>
    <path d="M694.600 292.500v3.300l2.700 2.200l2.700-2.200v-3.300z" fill="#eab98e"/>
    <circle cx="697.300" cy="284.600" r="6.300" fill="#f3c79c"/>
    <path d="M690.800 284.600q-.9-8.200 6.500-8.400q7.400.2 6.500 8.400q-1.300-3.400-3.300-4.300q-3.600 1.400-7.300.4q-1.500 1.300-2.400 3.900z" fill="#4b4f58"/>
  </g>
  <g fill="none" stroke="#a5e2ea" stroke-width="1.300" stroke-linecap="round" stroke-linejoin="round">
    <path d="M727.500 286.500h-11.500M719 283.500l-3 3l3 3"/>
    <path d="M715.500 294.600h11.500M724 291.600l3 3l-3 3"/>
  </g>
  <!-- HCI: computer -->
  <g stroke="#1a2238" stroke-width=".9" stroke-linejoin="round">
    <rect x="735" y="274.400" width="30" height="21.200" rx="1.800" fill="#8c939c"/>
    <rect x="737.200" y="276.600" width="25.600" height="15.600" rx=".8" fill="#8fd2f6"/>
    <path d="M746.500 295.600h7l1 4h-9z" fill="#7b828c"/>
    <rect x="742" y="299.300" width="16" height="1.800" rx=".8" fill="#8c939c"/>
    <rect x="733.600" y="302.400" width="22.400" height="5.800" rx="1.200" fill="#aab1ba"/>
    <rect x="757.600" y="288.600" width="10.600" height="13.500" rx="1.600" fill="#b9def6"/>
    <rect x="759.300" y="290.500" width="7.200" height="3.300" rx=".6" fill="#5fa8e4" stroke-width=".5"/>
  </g>
  <g stroke="#59606a" stroke-width=".5"><path d="M735.500 304.300h18.600M735.500 306.200h18.600"/></g>
  <use href="#hand" transform="translate(763.300 301.500) scale(.72)"/>
  <!-- HCI: phone -->
  <g stroke="#1a2238" stroke-width=".9">
    <rect x="780" y="272.400" width="22.200" height="37.600" rx="3" fill="#5b626b"/>
    <rect x="782.800" y="277" width="16.600" height="25.300" rx=".8" fill="#8fd2f6"/>
    <circle cx="791.100" cy="306.100" r="1.700" fill="#444a52" stroke="#8c939c" stroke-width=".6"/>
  </g>
  <path d="M788.600 274.700h5" stroke="#33383f" stroke-width=".9" stroke-linecap="round"/>
  <path d="M784 294l10-15.500h4.500v3l-12 19.500h-2.500z" fill="#fff" fill-opacity=".22"/>
  <!-- User flow -->
  <g stroke="#151d3a" stroke-width="1.100">
    <rect x="828.700" y="277" width="28.700" height="28.600" rx="5.500" fill="#7574dc"/>
    <rect x="878" y="277" width="28.300" height="28.600" rx="5.500" fill="#3a92ea"/>
    <rect x="927" y="277" width="28.300" height="28.600" rx="5.500" fill="#4cc98b"/>
  </g>
  <g fill="none" stroke="#2f3a9c" stroke-width="1.100"><circle cx="842.300" cy="285.800" r="3.300"/><path d="M836.500 288a6.200 6.200 0 1 1 11.600 0"/></g>
  <use href="#hand" transform="translate(842.300 294.200) scale(1.080)"/>
  <g fill="none" stroke="#f4f6fa" stroke-width="1.700" stroke-linecap="round" stroke-linejoin="round">
    <path d="M862 291.500h11M869.600 288.100l3.400 3.400l-3.400 3.400"/>
    <path d="M911 291.500h11M918.600 288.100l3.400 3.400l-3.400 3.400"/>
  </g>
  <!-- cart -->
  <g stroke="#15233f" stroke-width=".8" stroke-linejoin="round">
    <path d="M882.300 282.200h3.400l1 3.200h14.800l-2.200 9h-11.600l-3-10.700h-2.400z" fill="#f4f7fb"/>
    <path d="M887.800 296.800h11.600v1.500h-11.600z" fill="#f4f7fb"/>
    <circle cx="889.500" cy="301" r="1.700" fill="#f4f7fb"/><circle cx="897.800" cy="301" r="1.700" fill="#f4f7fb"/>
  </g>
  <g stroke="#2a3650" stroke-width=".9"><path d="M889.300 288h9.800M889.900 290.600h8.600"/><path d="M891.500 287v5M894.300 287v5M897 287v5" stroke-width=".6"/></g>
  <!-- card -->
  <rect x="932.200" y="283.700" width="18" height="14.400" rx="1.800" fill="#f6f8f8" stroke="#143528" stroke-width=".9"/>
  <rect x="932.700" y="286.600" width="17" height="2.600" fill="#3c4a48"/>
  <path d="M934.800 292.700h6.400M934.800 295h4.200M944.500 292.700h3.300M944.500 295h3.300" stroke="#5f6e6c" stroke-width=".9"/>
  <!-- Interaction icons: tap -->
  <g fill="none" stroke="#3a74dc" stroke-width="1.300"><circle cx="698.500" cy="388.800" r="2.900"/><path d="M692.700 391.400a6.300 6.300 0 1 1 11.600 0"/></g>
  <use href="#hand" transform="translate(697.900 399) scale(1.300)"/>
  <!-- phone + hand -->
  <g stroke="#1a2238" stroke-width=".9">
    <rect x="738.600" y="383" width="14.800" height="26.400" rx="2.200" fill="#5f666f"/>
    <rect x="740.500" y="386.400" width="11" height="18.600" rx=".6" fill="#3ecab0"/>
  </g>
  <path d="M742 388.600h3" stroke="#c6fff0" stroke-width=".8"/>
  <use href="#hand" transform="translate(751.400 400.600) scale(1.080)"/>
  <!-- chat window -->
  <g stroke="#1a2238" stroke-width=".9" stroke-linejoin="round">
    <path d="M786 388.300q0-2 2-2h20.400q2 0 2 2v14.900q0 2-2 2h-8.400l-2.600 3.800l-1.400-3.800h-8q-2 0-2-2z" fill="#dbe7f4"/>
    <path d="M786 388.300q0-2 2-2h20.400q2 0 2 2v2.400h-24.400z" fill="#9097a1"/>
  </g>
  <g fill="#e9edf2"><circle cx="788.600" cy="388.500" r=".7"/><circle cx="790.800" cy="388.500" r=".7"/><circle cx="793" cy="388.500" r=".7"/></g>
  <g stroke="#3d4654" stroke-width="1.200" stroke-linecap="round"><path d="M790.500 394.400h15.400M790.500 397.500h15.400M790.500 400.600h10"/></g>
  <!-- gears -->
  <g stroke="#152244" stroke-width=".9" stroke-linejoin="round">
    <path fill="#3f80e8" d="M840.44 386.70L840.65 384.51L843.35 384.51L843.56 386.70L845.06 387.33L846.77 385.93L848.67 387.83L847.27 389.54L847.90 391.04L850.09 391.25L850.09 393.95L847.90 394.16L847.27 395.66L848.67 397.37L846.77 399.27L845.06 397.87L843.56 398.50L843.35 400.69L840.65 400.69L840.44 398.50L838.94 397.87L837.23 399.27L835.33 397.37L836.73 395.66L836.10 394.16L833.91 393.95L833.91 391.25L836.10 391.04L836.73 389.54L835.33 387.83L837.23 385.93L838.94 387.33Z"/>
    <circle cx="842" cy="392.600" r="3" fill="#25406e"/>
    <path fill="#43c88c" d="M851.50 398.24L851.63 396.58L853.57 396.58L853.70 398.24L854.76 398.68L856.03 397.60L857.40 398.97L856.32 400.24L856.76 401.30L858.42 401.43L858.42 403.37L856.76 403.50L856.32 404.56L857.40 405.83L856.03 407.20L854.76 406.12L853.70 406.56L853.57 408.22L851.63 408.22L851.50 406.56L850.44 406.12L849.17 407.20L847.80 405.83L848.88 404.56L848.44 403.50L846.78 403.37L846.78 401.43L848.44 401.30L848.88 400.24L847.80 398.97L849.17 397.60L850.44 398.68Z"/>
    <circle cx="852.600" cy="402.400" r="2.100" fill="#25406e"/>
  </g>
  <!-- process arrows (drawn back to front) -->
  <g stroke="#0d1936" stroke-width="1" stroke-linejoin="round">
    <path d="M822 422.400h24.900v-8.700l19.400 19.600l-19.400 19.600v-8.500h-24.900z" fill="url(#ar4)"/>
    <path d="M775 422.400h39.600v-8.700l19 19.600l-19 19.600v-8.500h-39.600z" fill="url(#ar3)"/>
    <path d="M727 422.400h39v-8.700l19.700 19.600l-19.700 19.600v-8.500h-39z" fill="url(#ar2)"/>
    <path d="M678.400 422.400h39.100v-8.700l20 19.600l-20 19.600v-8.500h-39.100l7.400-11z" fill="url(#ar1)"/>
  </g>
  <!-- usability scale -->
  <g stroke="#1a2238" stroke-width=".9" stroke-linejoin="round">
    <path d="M923.200 426.500q2.200 12.500 10.800 17.600h3.400q1 0 1 1v2q0 1-1 1h-28.400q-1 0-1-1v-2q0-1 1-1h3.400q8.600-5.100 10.800-17.600z" fill="#8b95a2"/>
    <path d="M891.500 432.900l62-11.400l.6 3.200l-62 11.400z" fill="#b3bbc4"/>
    <circle cx="923.200" cy="427.600" r="3.600" fill="#aeb7c1"/><circle cx="923.200" cy="427.600" r="1.400" fill="#5f6975" stroke="none"/>
    <circle cx="900" cy="418.300" r="8.600" fill="#46c988"/>
    <circle cx="943.400" cy="410.300" r="8.600" fill="#46c988"/>
  </g>
  <g fill="none" stroke="#0f3324" stroke-width="1.700" stroke-linecap="round" stroke-linejoin="round">
    <path d="M896 418.500l2.900 2.900l5.200-5.700"/><path d="M939.400 410.500l2.900 2.900l5.200-5.700"/>
  </g>
</svg>
<!-- P3ICONS2 -->
<!-- interaction labels -->
<div class="t c" style="left:701px;top:462.3px;font-size:9.8px;font-weight:500">交互方式</div>
<div class="t c" style="left:749.4px;top:462.3px;font-size:9.8px;font-weight:500">交互操作</div>
<div class="t c" style="left:798.2px;top:462.3px;font-size:9.8px;font-weight:500">交互反馈</div>
<div class="t c" style="left:846.6px;top:462.3px;font-size:9.8px;font-weight:500">交互动效</div>
<div class="t c" style="left:701.2px;top:472px;-webkit-text-stroke:0;font-size:7.8px;letter-spacing:.3px">(Trigger)</div>
<div class="t c" style="left:749px;top:472px;-webkit-text-stroke:0;font-size:7.8px;letter-spacing:.2px">(User Action)</div>
<div class="t c" style="left:798.4px;top:473.3px;-webkit-text-stroke:0;font-size:5.8px">(Action/Feedback)</div>
<div class="t c" style="left:846.2px;top:473.3px;-webkit-text-stroke:0;font-size:5.8px">(Animation/Motion)</div>
<div class="t c" style="left:700.8px;top:487.3px;-webkit-text-stroke:0;font-size:7.7px;font-weight:500">软件设定触发</div>
<div class="t c" style="left:749.4px;top:487.3px;-webkit-text-stroke:0;font-size:7.7px;font-weight:500">用户实际执</div>
<div class="t c" style="left:798.1px;top:487.3px;-webkit-text-stroke:0;font-size:7.7px;font-weight:500">操作后的系统</div>
<div class="t c" style="left:846.6px;top:487.3px;-webkit-text-stroke:0;font-size:7.7px;font-weight:500">呈现反馈时</div>
<div class="t c" style="left:701.2px;top:497.8px;-webkit-text-stroke:0;font-size:7.7px;font-weight:500">（长按/双击）</div>
<div class="t c" style="left:749px;top:497.8px;-webkit-text-stroke:0;font-size:7.7px;font-weight:500">行动作</div>
<div class="t c" style="left:798.1px;top:497.8px;-webkit-text-stroke:0;font-size:7.7px;font-weight:500">（弹窗/跳转）</div>
<div class="t c" style="left:846.6px;top:497.8px;-webkit-text-stroke:0;font-size:7.7px;font-weight:500">的视觉动画</div>
<!-- usability text -->
<div class="t c" style="left:921.5px;top:465px;font-size:9.2px;font-weight:500">评价核心标准：</div>
<div class="t c" style="left:921.7px;top:482.2px;font-size:9.2px;font-weight:500">用户能否无障碍、</div>
<div class="t c" style="left:921.8px;top:494.5px;font-size:9.4px;font-weight:500">低学习成本使用</div>

<!-- sparkle -->
<svg class="abs" style="left:940px;top:485px" width="40" height="40" viewBox="940 485 40 40">
  <path d="M960 488q1.600 13.800 17.500 17q-15.900 3.200-17.500 17q-1.600-13.800-16.800-17q15.200-3.200 16.800-17z" fill="#c4cad8" fill-opacity=".78"/>
</svg>

</div>
</body>
</html>
